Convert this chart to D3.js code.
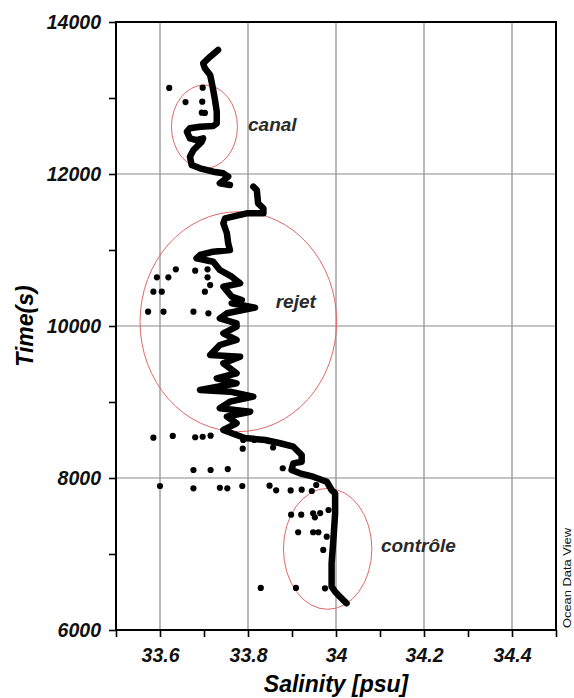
<!DOCTYPE html>
<html>
<head>
<meta charset="utf-8">
<script src="https://cdn.jsdelivr.net/npm/d3@7"></script>
<style>
  body { margin: 0; background: #fff; }
  svg { display: block; font-family: "Liberation Sans", Arial, sans-serif; }
</style>
</head>
<body>
<div id="chart"></div>
<script>
// salinity [psu], time [s]
const profileTop = [
  [33.732, 13632], [33.714, 13543], [33.698, 13457], [33.702, 13391], [33.714, 13303],
  [33.718, 13193], [33.721, 13105], [33.725, 12974], [33.729, 12820], [33.729, 12667],
  [33.721, 12632], [33.691, 12622], [33.668, 12601], [33.661, 12557], [33.668, 12470],
  [33.683, 12447], [33.698, 12470], [33.695, 12425], [33.676, 12316], [33.668, 12228],
  [33.672, 12118], [33.691, 12075], [33.721, 12030], [33.744, 12009], [33.755, 11964],
  [33.736, 11878], [33.759, 11855]
];
const profileMain = [
  [33.812, 11833], [33.820, 11789], [33.823, 11614], [33.835, 11549], [33.835, 11483],
  [33.816, 11483], [33.797, 11483], [33.748, 11417], [33.744, 11351], [33.752, 11220],
  [33.755, 11088], [33.759, 11000], [33.721, 10978], [33.691, 10934], [33.683, 10891],
  [33.721, 10846], [33.736, 10737], [33.763, 10649], [33.782, 10562], [33.744, 10517],
  [33.763, 10386], [33.786, 10342], [33.763, 10299], [33.816, 10241], [33.752, 10167],
  [33.736, 10101], [33.774, 10036], [33.774, 9991], [33.744, 9904], [33.774, 9816],
  [33.736, 9750], [33.714, 9618], [33.782, 9596], [33.744, 9509], [33.774, 9378],
  [33.729, 9312], [33.774, 9246], [33.691, 9158], [33.759, 9136], [33.812, 9070],
  [33.759, 9004], [33.736, 8917], [33.805, 8872], [33.752, 8807], [33.774, 8720],
  [33.744, 8632], [33.774, 8566], [33.793, 8526], [33.839, 8500], [33.873, 8457],
  [33.903, 8412], [33.922, 8303], [33.922, 8214], [33.903, 8193], [33.899, 8105],
  [33.918, 8062], [33.948, 8017], [33.979, 7951], [33.990, 7842], [33.998, 7799],
  [33.998, 7536], [33.994, 7184], [33.990, 6878], [33.990, 6570], [33.998, 6504],
  [34.009, 6438], [34.024, 6351]
];
const scatter = [
  [33.621, 13132], [33.697, 13136], [33.658, 12947], [33.696, 12951], [33.695, 12807], [33.702, 12803],
  [33.636, 10746], [33.593, 10641], [33.619, 10641], [33.680, 10728], [33.708, 10746], [33.708, 10641],
  [33.714, 10539], [33.585, 10451], [33.604, 10451], [33.702, 10451], [33.573, 10188], [33.608, 10188],
  [33.676, 10188], [33.710, 10167],
  [33.585, 8530], [33.629, 8553], [33.680, 8536], [33.697, 8543], [33.715, 8557], [33.789, 8500],
  [33.814, 8500], [33.788, 8386], [33.857, 8401], [33.676, 8105], [33.715, 8105], [33.754, 8118],
  [33.879, 8128], [33.600, 7895], [33.676, 7864], [33.736, 7872], [33.753, 7864], [33.787, 7895],
  [33.849, 7899], [33.864, 7838], [33.897, 7836], [33.922, 7846], [33.945, 7829], [33.955, 7908],
  [33.898, 7517], [33.921, 7517], [33.948, 7536], [33.952, 7483], [33.964, 7539], [33.983, 7579],
  [33.914, 7286], [33.948, 7286], [33.960, 7286], [33.979, 7228], [33.971, 7053],
  [33.829, 6553], [33.909, 6553], [33.975, 6549]
];
// zones: centre salinity, centre time, half width (psu), half height (s)
const zoneNames = ["canal", "rejet", "contrôle"];
const zoneCentres = [[33.701, 12622], [33.778, 10057], [33.981, 7068]];
const zoneRadii = [[0.075, 549], [0.2234, 1447], [0.1005, 796]];
const zoneLabelPos = [[33.800, 12560], [33.863, 10240], [34.102, 7020]];

const xTicks = d3.range(335, 346).map(v => v / 10);
const xLabels = ["33.6", "33.8", "34", "34.2", "34.4"];
const xGrid = [33.6, 33.8, 34.0, 34.2, 34.4];
const yTicks = d3.range(6000, 14001, 1000);
const yLabels = ["6000", "8000", "10000", "12000", "14000"];
const yGrid = [8000, 10000, 12000];

const width = 574, height = 698;
const svg = d3.select('#chart').append('svg')
  .attr('width', width).attr('height', height);

const x = d3.scaleLinear().domain([33.5, 34.5]).range([116, 556]);
const y = d3.scaleLinear().domain([6000, 14000]).range([630, 22]);

// grid
svg.append('g').selectAll('line').data(xGrid).join('line')
  .attr('x1', d => x(d)).attr('x2', d => x(d))
  .attr('y1', y(14000)).attr('y2', y(6000))
  .attr('stroke', '#8a8a8a').attr('stroke-width', 1.2);
svg.append('g').selectAll('line').data(yGrid).join('line')
  .attr('y1', d => y(d)).attr('y2', d => y(d))
  .attr('x1', x(33.5)).attr('x2', x(34.5))
  .attr('stroke', '#8a8a8a').attr('stroke-width', 1.2);

// zone ellipses
svg.append('g').selectAll('ellipse').data(zoneCentres).join('ellipse')
  .attr('cx', d => x(d[0])).attr('cy', d => y(d[1]))
  .attr('rx', (d, i) => x(33.5 + zoneRadii[i][0]) - x(33.5))
  .attr('ry', (d, i) => y(6000) - y(6000 + zoneRadii[i][1]))
  .attr('fill', 'none').attr('stroke', '#e06868').attr('stroke-width', 1);

// profile
const line = d3.line().x(d => x(d[0])).y(d => y(d[1]));
svg.append('g').selectAll('path').data([profileTop, profileMain]).join('path')
  .attr('d', line)
  .attr('fill', 'none').attr('stroke', '#000')
  .attr('stroke-width', 6.5).attr('stroke-linejoin', 'round').attr('stroke-linecap', 'round');

svg.append('g').selectAll('circle').data(scatter).join('circle')
  .attr('cx', d => x(d[0])).attr('cy', d => y(d[1]))
  .attr('r', 3.1).attr('fill', '#000');

// zone labels
svg.append('g').selectAll('text').data(zoneNames).join('text')
  .attr('x', (d, i) => x(zoneLabelPos[i][0]))
  .attr('y', (d, i) => y(zoneLabelPos[i][1]))
  .attr('font-size', 19).attr('font-style', 'italic').attr('font-weight', 'bold')
  .attr('fill', '#2a2a2a')
  .text(d => d);

// frame
svg.append('rect')
  .attr('x', x(33.5)).attr('y', y(14000))
  .attr('width', x(34.5) - x(33.5)).attr('height', y(6000) - y(14000))
  .attr('fill', 'none').attr('stroke', '#000').attr('stroke-width', 2);

// axes
const xAxis = svg.append('g')
  .attr('transform', `translate(0,${y(6000)})`)
  .call(d3.axisBottom(x).tickValues(xTicks).tickSize(7).tickPadding(11)
    .tickFormat(d => { const s = String(+d.toFixed(1)); return xLabels.includes(s) ? s : ''; }));
const yAxis = svg.append('g')
  .attr('transform', `translate(${x(33.5)},0)`)
  .call(d3.axisLeft(y).tickValues(yTicks).tickSize(7).tickPadding(8)
    .tickFormat(d => yLabels.includes(String(d)) ? String(d) : ''));

[xAxis, yAxis].forEach(g => {
  g.select('.domain').remove();
  g.selectAll('.tick line').attr('stroke', '#000').attr('stroke-width', 1.6);
  g.selectAll('.tick text')
    .attr('font-family', '"Liberation Sans", Arial, sans-serif')
    .attr('font-size', 19.5).attr('font-style', 'italic').attr('font-weight', 'bold')
    .attr('fill', '#111');
});

// titles
svg.append('text')
  .attr('x', 336).attr('y', 692)
  .attr('text-anchor', 'middle')
  .attr('font-size', 23).attr('font-style', 'italic').attr('font-weight', 'bold')
  .text('Salinity [psu]');
svg.append('text')
  .attr('transform', 'translate(33,326) rotate(-90)')
  .attr('text-anchor', 'middle')
  .attr('font-size', 23).attr('font-style', 'italic').attr('font-weight', 'bold')
  .text('Time(s)');
svg.append('text')
  .attr('transform', 'translate(571,628) rotate(-90)')
  .attr('font-size', 11).attr('fill', '#111')
  .attr('textLength', 100).attr('lengthAdjust', 'spacingAndGlyphs')
  .text('Ocean Data View');
</script>
</body>
</html>
